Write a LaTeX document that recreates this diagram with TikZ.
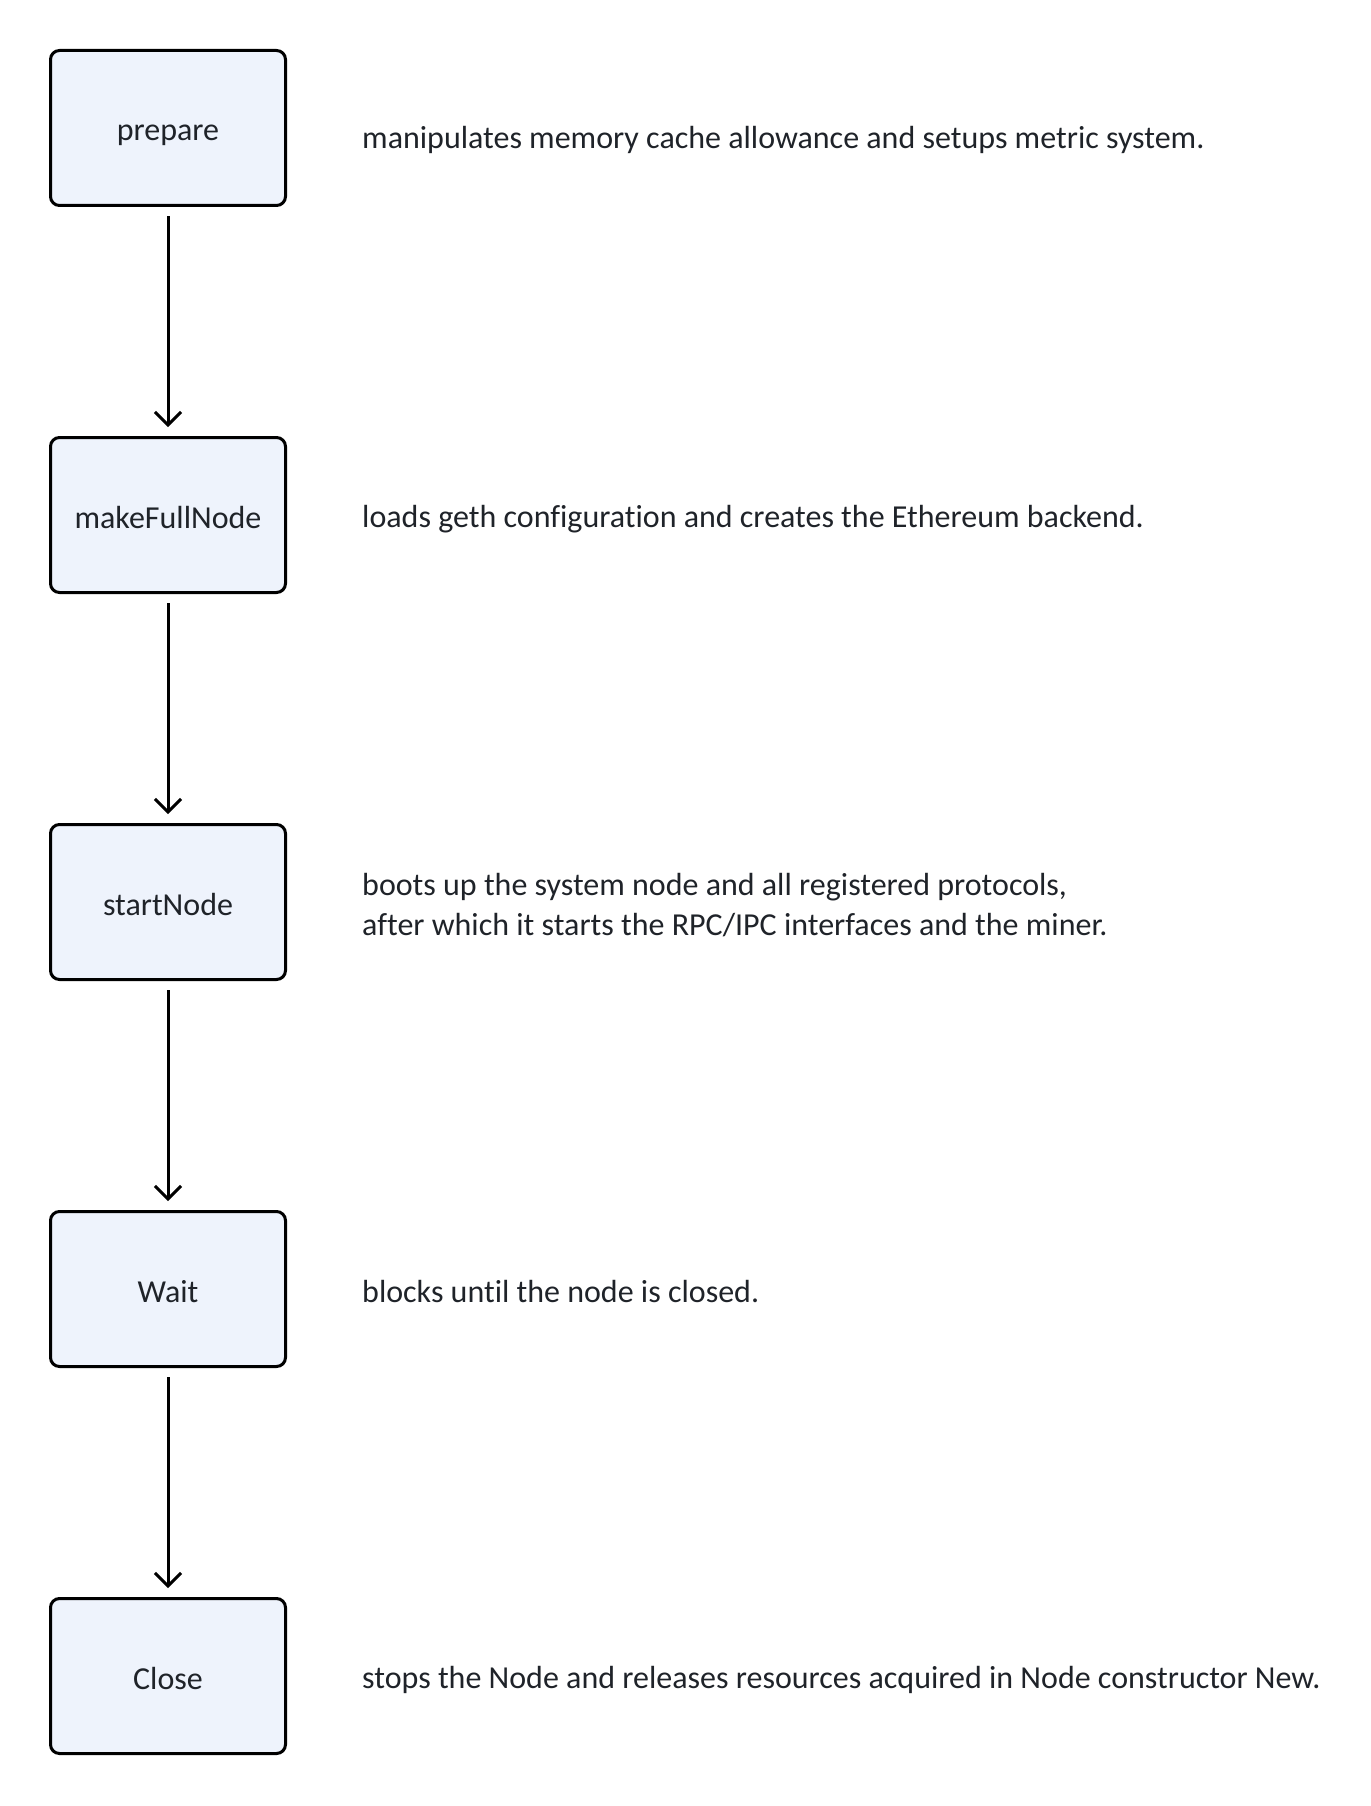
\documentclass[tikz,border=0pt]{standalone}
\usepackage{fontspec}
\setmainfont{Carlito}[Ligatures=NoCommon]
\usetikzlibrary{arrows.meta}
\definecolor{boxfill}{HTML}{EEF3FC}
\definecolor{inkgray}{HTML}{1F2329}

\begin{document}
\begin{tikzpicture}[x=1pt,y=-1pt,
  stage/.style={draw=black, line width=3pt, rounded corners=9pt, fill=boxfill,
    minimum width=235pt, minimum height=155pt, text=inkgray, text height=32pt, text depth=6pt,
    font=\fontsize{32}{40}\selectfont},
  note/.style={anchor=west, align=left, inner sep=0pt, text=inkgray, font=\fontsize{32}{40}\selectfont},
  flow/.style={line width=3pt, -{Straight Barb[length=13pt,width=26pt]}, shorten <=9pt, shorten >=9pt}]
\useasboundingbox (0,0) rectangle (1370,1806);

% stages
\node[stage] (prep) at (168,128) {prepare};
\node[stage] (full) at (168,515) {makeFullNode};
\node[stage] (start) at (168,902) {startNode};
\node[stage] (wait) at (168,1289) {Wait};
\node[stage] (close) at (168,1676) {Close};

% what each stage does
\node[note] (prepnote) at (362,140) {manipulates memory cache allowance and setups metric system.};
\node[note] (fullnote) at (362,519) {loads geth configuration and creates the Ethereum backend.};
\node[note] (startnote) at (362,905) {boots up the system node and all registered protocols,\\after which it starts the RPC/IPC interfaces and the miner.};
\node[note] (waitnote) at (362,1291) {blocks until the node is closed.};
\node[note] (closenote) at (362,1680) {stops the Node and releases resources acquired in Node constructor New.};

% flow
\draw[flow] (prep) -- (full);
\draw[flow] (full) -- (start);
\draw[flow] (start) -- (wait);
\draw[flow] (wait) -- (close);
\end{tikzpicture}
\end{document}
